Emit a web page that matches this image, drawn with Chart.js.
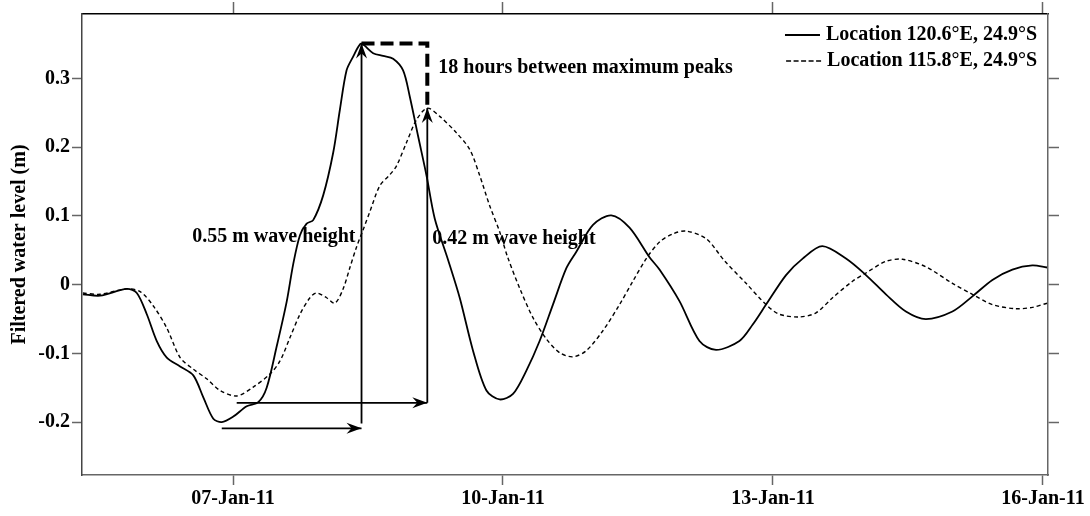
<!DOCTYPE html>
<html>
<head>
<meta charset="utf-8">
<title>Filtered water level</title>
<script src="https://cdn.jsdelivr.net/npm/chart.js"></script>
<style>
  html, body { margin: 0; padding: 0; background: #fff; }
  #wrap { width: 1090px; height: 516px; position: relative; }
</style>
</head>
<body>
<div id="wrap"><canvas id="levelChart"></canvas></div>
<script>
// x = day of January 2011 (7.0 = 07-Jan-11 00:00), y = filtered water level in metres
const solidX = [5.332, 5.524, 5.820, 5.931, 6.042, 6.153, 6.264, 6.412, 6.559, 6.670, 6.781, 6.875,
  7.003, 7.152, 7.281, 7.374, 7.485, 7.596, 7.669, 7.744, 7.818, 7.891, 8.002, 8.113, 8.188, 8.262,
  8.335, 8.391, 8.428, 8.557, 8.668, 8.779, 8.890, 8.964, 9.057, 9.150, 9.242, 9.390, 9.519, 9.667,
  9.816, 9.963, 10.111, 10.260, 10.407, 10.555, 10.704, 10.815, 11.000, 11.203, 11.406, 11.628, 11.739,
  11.961, 12.183, 12.368, 12.627, 12.775, 12.923, 13.145, 13.330, 13.548, 13.811, 14.033, 14.255,
  14.477, 14.699, 14.994, 15.216, 15.438, 15.660, 15.882, 16.045];
const solidY = [-0.014, -0.016, -0.006, -0.012, -0.043, -0.082, -0.106, -0.119, -0.132, -0.164, -0.195, -0.200,
  -0.192, -0.177, -0.171, -0.150, -0.090, -0.025, 0.030, 0.072, 0.089, 0.094, 0.130, 0.192, 0.255, 0.312,
  0.332, 0.346, 0.351, 0.337, 0.333, 0.329, 0.312, 0.274, 0.216, 0.159, 0.096, 0.036, -0.019, -0.096,
  -0.154, -0.167, -0.159, -0.125, -0.082, -0.029, 0.024, 0.048, 0.087, 0.101, 0.083, 0.040, 0.022,
  -0.024, -0.082, -0.095, -0.082, -0.058, -0.029, 0.014, 0.038, 0.056, 0.038, 0.014, -0.014,
  -0.039, -0.050, -0.039, -0.017, 0.007, 0.022, 0.028, 0.025];

const dashX = [5.332, 5.524, 5.820, 5.968, 6.115, 6.264, 6.412, 6.559, 6.708, 6.856, 7.041, 7.225,
  7.411, 7.522, 7.633, 7.744, 7.855, 7.929, 8.040, 8.132, 8.224, 8.299, 8.373, 8.446, 8.520, 8.631,
  8.742, 8.817, 8.928, 9.039, 9.159, 9.297, 9.483, 9.630, 9.741, 9.852, 9.963, 10.052, 10.185, 10.333,
  10.482, 10.629, 10.777, 10.926, 11.110, 11.295, 11.443, 11.592, 11.739, 11.887, 12.035, 12.257,
  12.460, 12.701, 12.923, 13.071, 13.293, 13.478, 13.662, 13.884, 14.033, 14.255, 14.439, 14.699,
  14.994, 15.216, 15.438, 15.698, 15.882, 16.045];
const dashY = [-0.012, -0.014, -0.006, -0.010, -0.031, -0.063, -0.106, -0.123, -0.137, -0.154, -0.162, -0.149,
  -0.130, -0.111, -0.077, -0.043, -0.019, -0.012, -0.019, -0.027, -0.006, 0.025, 0.055, 0.080, 0.106, 0.144,
  0.160, 0.173, 0.207, 0.240, 0.257, 0.245, 0.221, 0.197, 0.159, 0.115, 0.077, 0.040, -0.005, -0.048,
  -0.079, -0.099, -0.105, -0.096, -0.067, -0.029, 0.005, 0.038, 0.062, 0.074, 0.078, 0.067,
  0.035, 0.002, -0.029, -0.043, -0.047, -0.041, -0.019, 0.005, 0.017, 0.034, 0.037, 0.026,
  0.002, -0.014, -0.029, -0.035, -0.033, -0.027];

const xTickDays = [7, 10, 13, 16];
const xTickLabels = ['07-Jan-11', '10-Jan-11', '13-Jan-11', '16-Jan-11'];
const yTickValues = [-0.2, -0.1, 0, 0.1, 0.2, 0.3];
const yTickLabels = ['-0.2', '-0.1', '0', '0.1', '0.2', '0.3'];
const seriesNames = ['Location 120.6°E, 24.9°S', 'Location 115.8°E, 24.9°S'];
const noteTexts = ['0.55 m wave height', '0.42 m wave height', '18 hours between maximum peaks'];

const SERIF = '"Liberation Serif", "Times New Roman", serif';
Chart.defaults.font.family = SERIF;
Chart.defaults.color = '#000';

function toPoints(xs, ys) {
  return xs.map((v, i) => ({ x: v, y: ys[i] }));
}

// peak of a series, and the lowest point before it
function peakInfo(xs, ys) {
  const ip = ys.indexOf(Math.max(...ys));
  let im = 0;
  for (let i = 0; i < ip; i++) if (ys[i] < ys[im]) im = i;
  return { px: xs[ip], py: ys[ip], mx: xs[im], my: ys[im] };
}

function drawArrow(ctx, x1, y1, x2, y2) {
  ctx.beginPath();
  ctx.moveTo(x1, y1);
  ctx.lineTo(x2, y2);
  ctx.stroke();
  const a = Math.atan2(y2 - y1, x2 - x1);
  ctx.save();
  ctx.translate(x2, y2);
  ctx.rotate(a);
  ctx.beginPath();
  ctx.moveTo(0, 0);
  ctx.lineTo(-15, -5.5);
  ctx.lineTo(-10, 0);
  ctx.lineTo(-15, 5.5);
  ctx.closePath();
  ctx.fill();
  ctx.restore();
}

// arrows, peak marker, notes and the legend
const notesPlugin = {
  id: 'notes',
  afterDatasetsDraw(chart) {
    const { ctx, chartArea, scales: { x, y } } = chart;
    const s = peakInfo(solidX, solidY);
    const d = peakInfo(dashX, dashY);
    const X = v => x.getPixelForValue(v);
    const Y = v => y.getPixelForValue(v);

    ctx.save();
    ctx.strokeStyle = '#000';
    ctx.fillStyle = '#000';
    ctx.lineWidth = 1.8;

    // wave height arrows
    drawArrow(ctx, X(s.mx), Y(s.my - 0.009), X(s.px), Y(s.my - 0.009));
    drawArrow(ctx, X(s.px), Y(s.my - 0.002), X(s.px), Y(s.py));
    drawArrow(ctx, X(d.mx), Y(d.my - 0.01), X(d.px), Y(d.my - 0.01));
    drawArrow(ctx, X(d.px), Y(d.my - 0.01), X(d.px), Y(d.py));

    // thick dashed line joining the two peaks
    ctx.lineWidth = 4;
    ctx.setLineDash([13, 6]);
    ctx.beginPath();
    ctx.moveTo(X(s.px), Y(s.py));
    ctx.lineTo(X(d.px), Y(s.py));
    ctx.lineTo(X(d.px), Y(d.py));
    ctx.stroke();
    ctx.setLineDash([]);

    ctx.font = 'bold 20px ' + SERIF;
    ctx.textBaseline = 'middle';
    ctx.textAlign = 'right';
    ctx.fillText(noteTexts[0], X(s.px) - 6, Y(0.070));
    ctx.textAlign = 'left';
    ctx.fillText(noteTexts[1], X(d.px) + 5, Y(0.067));
    ctx.fillText(noteTexts[2], X(d.px) + 11, Y(0.315));

    // legend
    const right = chartArea.right - 11;
    const rows = [chartArea.top + 21, chartArea.top + 47];
    ctx.textAlign = 'right';
    rows.forEach((ry, i) => {
      ctx.fillText(seriesNames[i], right, ry);
      const w = ctx.measureText(seriesNames[i]).width;
      const lx = right - w - 6;
      ctx.lineWidth = i === 0 ? 1.8 : 1.4;
      ctx.setLineDash(i === 0 ? [] : [5, 2.5]);
      ctx.beginPath();
      ctx.moveTo(lx - 35, ry);
      ctx.lineTo(lx, ry);
      ctx.stroke();
    });
    ctx.restore();
  }
};

const xRange = { min: 5.322, max: 16.056 };
const yRange = { min: -0.277, max: 0.394 };
const tickFont = { size: 20, weight: 'bold' };

new Chart(document.getElementById('levelChart').getContext('2d'), {
  type: 'line',
  data: {
    datasets: [{
      label: seriesNames[0],
      data: toPoints(solidX, solidY),
      borderColor: '#000',
      borderWidth: 1.8,
      pointRadius: 0,
      tension: 0.3
    }, {
      label: seriesNames[1],
      data: toPoints(dashX, dashY),
      borderColor: '#000',
      borderWidth: 1.4,
      borderDash: [4, 3],
      pointRadius: 0,
      tension: 0.3
    }]
  },
  options: {
    responsive: true,
    maintainAspectRatio: false,
    animation: false,
    layout: { padding: 0 },
    plugins: {
      legend: { display: false },
      tooltip: { enabled: false }
    },
    scales: {
      x: {
        type: 'linear',
        position: 'bottom',
        min: xRange.min,
        max: xRange.max,
        afterBuildTicks: s => { s.ticks = xTickDays.map(v => ({ value: v })); },
        afterFit: s => { s.height = 41; },
        ticks: {
          autoSkip: false,
          maxRotation: 0,
          padding: 2,
          font: tickFont,
          callback: (v, i) => xTickLabels[i]
        },
        grid: { drawOnChartArea: false, tickLength: 10, tickColor: '#666', tickWidth: 1.5 },
        border: { color: '#666', width: 1.5 }
      },
      x2: {
        type: 'linear',
        position: 'top',
        min: xRange.min,
        max: xRange.max,
        afterBuildTicks: s => { s.ticks = xTickDays.map(v => ({ value: v })); },
        afterFit: s => { s.height = 12; },
        ticks: { display: false },
        grid: { drawOnChartArea: false, tickLength: 12, tickColor: '#666', tickWidth: 1.5 },
        border: { color: '#000', width: 1.5 }
      },
      y: {
        type: 'linear',
        position: 'left',
        min: yRange.min,
        max: yRange.max,
        afterBuildTicks: s => { s.ticks = yTickValues.map(v => ({ value: v })); },
        afterFit: s => { s.width = 82; },
        ticks: {
          padding: 2,
          font: tickFont,
          callback: (v, i) => yTickLabels[i]
        },
        grid: { drawOnChartArea: false, tickLength: 10, tickColor: '#666', tickWidth: 1.5 },
        border: { color: '#444', width: 1.5 },
        title: {
          display: true,
          text: 'Filtered water level (m)',
          font: { size: 20, weight: 'bold' },
          padding: { top: 8, bottom: 0 }
        }
      },
      y2: {
        type: 'linear',
        position: 'right',
        min: yRange.min,
        max: yRange.max,
        afterBuildTicks: s => { s.ticks = yTickValues.map(v => ({ value: v })); },
        afterFit: s => { s.width = 42; },
        ticks: { display: false },
        grid: { drawOnChartArea: false, tickLength: 11, tickColor: '#666', tickWidth: 1.5 },
        border: { color: '#666', width: 1.5 }
      }
    }
  },
  plugins: [notesPlugin]
});
</script>
</body>
</html>
